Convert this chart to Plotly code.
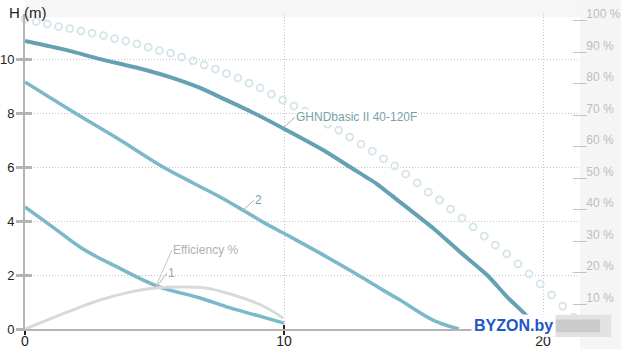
import plotly.graph_objects as go

# ---------------- data ----------------
main_x = [0, 1.62, 2.90, 4.44, 5.60, 6.76, 7.53, 8.69, 9.96, 11.51, 12.55, 13.59, 14.48, 15.75, 16.80, 17.84, 18.61, 19.42, 19.77]
main_y = [10.67, 10.33, 10.00, 9.65, 9.33, 8.93, 8.59, 8.07, 7.44, 6.63, 6.00, 5.37, 4.70, 3.74, 2.85, 2.00, 1.19, 0.44, 0.0]

c2_x = [0, 1.93, 3.67, 5.21, 6.49, 7.53, 8.42, 9.19, 10.12, 11.39, 12.66, 13.82, 14.48, 15.75, 16.75]
c2_y = [9.15, 8.00, 7.00, 6.07, 5.41, 4.89, 4.40, 3.96, 3.48, 2.81, 2.11, 1.44, 1.07, 0.33, 0.0]

c1_x = [0, 0.97, 2.24, 3.55, 5.10, 6.76, 7.92, 9.19, 10.0]
c1_y = [4.52, 3.85, 2.96, 2.30, 1.59, 1.15, 0.78, 0.44, 0.22]

eff_x = [0, 0.97, 1.93, 2.90, 4.05, 5.02, 5.98, 6.95, 7.92, 9.19, 9.96]
eff_y = [0, 3.2, 6.3, 9.2, 11.7, 13.0, 13.3, 13.0, 11.1, 7.3, 3.5]  # %

circ_x = [0.00, 0.43, 0.86, 1.30, 1.73, 2.16, 2.59, 3.03, 3.46, 3.89, 4.32, 4.76, 5.19, 5.62,
          6.05, 6.49, 6.92, 7.35, 7.78, 8.22, 8.65, 9.08, 9.51, 9.95, 10.38, 10.81, 11.24,
          11.68, 12.11, 12.54, 12.97, 13.41, 13.84, 14.27, 14.70, 15.14, 15.57, 16.00, 16.43,
          16.87, 17.30, 17.73, 18.16, 18.60, 19.03, 19.46, 19.89, 20.33, 20.76, 21.19, 21.62]
circ_y = [11.48, 11.39, 11.30, 11.20, 11.13, 11.04, 10.96, 10.87, 10.76, 10.67, 10.56, 10.44,
          10.31, 10.22, 10.07, 9.93, 9.78, 9.63, 9.46, 9.30, 9.11, 8.93, 8.70, 8.48, 8.26, 8.07,
          7.85, 7.59, 7.37, 7.11, 6.85, 6.59, 6.30, 6.04, 5.74, 5.41, 5.07, 4.78, 4.44, 4.11,
          3.78, 3.44, 3.11, 2.78, 2.41, 2.04, 1.67, 1.26, 0.85, 0.44, 0.11]

left_ticks = [0, 2, 4, 6, 8, 10]
right_ticks = [0, 10, 20, 30, 40, 50, 60, 70, 80, 90, 100]
right_text = ["__%d %%" % v for v in right_ticks]
x_ticks = [0, 10, 20]

series_label = "GHNDbasic II 40-120F"

FONT = "Arial, Liberation Sans, sans-serif"
GRID_DASH = "1px,2px"

fig = go.Figure()

fig.add_trace(go.Scatter(x=circ_x, y=circ_y, mode="markers", cliponaxis=False,
                         marker=dict(symbol="circle-open", size=7, color="#d6e5ea",
                                     line=dict(width=1.8, color="#d6e5ea")),
                         hoverinfo="skip"))
fig.add_trace(go.Scatter(x=eff_x, y=eff_y, mode="lines", yaxis="y2",
                         line=dict(color="#d9d9d9", width=3, shape="spline"), hoverinfo="skip"))
fig.add_trace(go.Scatter(x=c1_x, y=c1_y, mode="lines",
                         line=dict(color="#7ab8ca", width=3.5, shape="spline"), hoverinfo="skip"))
fig.add_trace(go.Scatter(x=c2_x, y=c2_y, mode="lines",
                         line=dict(color="#7ab8ca", width=3.5, shape="spline"), hoverinfo="skip"))
fig.add_trace(go.Scatter(x=main_x, y=main_y, mode="lines",
                         line=dict(color="#65a1b3", width=4, shape="spline", smoothing=0.6),
                         hoverinfo="skip"))

XR = [0, 21.35]
YR = [0, 11.67]

fig.update_layout(
    width=621, height=349,
    margin=dict(l=25, r=43, t=14, b=20, autoexpand=False),
    paper_bgcolor="white", plot_bgcolor="white",
    showlegend=False,
    font=dict(family=FONT, color="#222"),
    xaxis=dict(range=XR, tickvals=x_ticks, showgrid=True, gridcolor="#c4c4c4", griddash=GRID_DASH,
               gridwidth=1, zeroline=False, showline=True, linecolor="#b4b4b4", linewidth=2,
               ticks="outside", ticklen=4, tickwidth=2, tickcolor="#222", automargin=False,
               tickfont=dict(size=14, color="#222"), ticklabelstandoff=-6),
    xaxis2=dict(range=XR, overlaying="x", tickvals=x_ticks, showgrid=False, zeroline=False,
                showticklabels=False, ticks="inside", ticklen=4, tickwidth=2, tickcolor="#222",
                side="bottom", automargin=False),
    yaxis=dict(range=YR, tickvals=left_ticks, showgrid=True, gridcolor="#c4c4c4", griddash=GRID_DASH,
               gridwidth=1, zeroline=False, showline=True, linecolor="#b4b4b4", linewidth=2,
               ticks="outside", ticklen=7, tickwidth=3, tickcolor="#b4b4b4", automargin=False,
               tickfont=dict(size=13, color="#222"), ticklabelstandoff=-1),
    yaxis3=dict(range=YR, overlaying="y", side="left", tickvals=left_ticks, showgrid=False,
                zeroline=False, showticklabels=False, ticks="inside", ticklen=7, tickwidth=3,
                tickcolor="#b4b4b4", automargin=False),
    yaxis2=dict(range=[0, 100], overlaying="y", side="right", tickvals=right_ticks,
                ticktext=right_text, showgrid=False, zeroline=False, showline=False, ticks="",
                tickfont=dict(size=12, color="#bdbdbd"), ticklabelstandoff=-6, automargin=False),
)

# dummy trace so overlay axes render
fig.add_trace(go.Scatter(x=[None], y=[None], xaxis="x2", yaxis="y3", showlegend=False))

# background strips (outside plot area)
fig.add_shape(type="rect", xref="paper", yref="paper", x0=1.004, x1=1.1, y0=-0.1, y1=1.1,
              fillcolor="#f5f5f5", line_width=0, layer="below")
fig.add_shape(type="rect", xref="paper", yref="paper", x0=0.0, x1=1.004, y0=0.99, y1=1.05,
              fillcolor="#f6f6f6", line_width=0, layer="below")

ann_line = "#b0b0b0"
fig.add_annotation(x=main_x[8], y=main_y[8], text=series_label, showarrow=True, arrowhead=0,
                   arrowwidth=1, arrowcolor=ann_line, ax=12, ay=-11, xanchor="left",
                   font=dict(size=12, color="#7a9faa", family=FONT), bgcolor="rgba(255,255,255,0.9)",
                   borderpad=0)
fig.add_annotation(x=c2_x[6], y=c2_y[6], text="2", showarrow=True, arrowhead=0,
                   arrowwidth=1, arrowcolor=ann_line, ax=11, ay=-10, xanchor="left",
                   font=dict(size=12, color="#7a9faa", family=FONT), borderpad=0)
fig.add_annotation(x=c1_x[4], y=c1_y[4], text="1", showarrow=True, arrowhead=0,
                   arrowwidth=1, arrowcolor=ann_line, ax=10, ay=-13, xanchor="left",
                   font=dict(size=12, color="#8fa9b1", family=FONT), borderpad=0)
fig.add_annotation(x=eff_x[5], y=eff_y[5], yref="y2", text="Efficiency %", showarrow=True,
                   arrowhead=0, arrowwidth=1, arrowcolor="#c4c4c4", ax=17, ay=-38, xanchor="left",
                   font=dict(size=12, color="#b0b0b0", family=FONT), borderpad=0)

# axis title
fig.add_annotation(xref="paper", yref="paper", x=-0.033, y=1.006, xanchor="left", yanchor="middle",
                   text="H (m)", showarrow=False, font=dict(size=15, color="#222", family=FONT))

# watermark
fig.add_shape(type="rect", xref="paper", yref="paper", x0=0.94, x1=1.06, y0=-0.025, y1=0.045,
              fillcolor="#e2e2e2", line_width=0, layer="above")
fig.add_shape(type="rect", xref="paper", yref="paper", x0=0.96, x1=1.04, y0=-0.01, y1=0.03,
              fillcolor="#cbcbcb", line_width=0, layer="above")
fig.add_annotation(xref="paper", yref="paper", x=0.807, y=0.012, xanchor="left", yanchor="middle",
                   text="<b>BYZON.by</b>", showarrow=False, bgcolor="white", borderpad=2,
                   font=dict(size=16, color="#2157c9", family=FONT))

fig.write_html("out.html")
